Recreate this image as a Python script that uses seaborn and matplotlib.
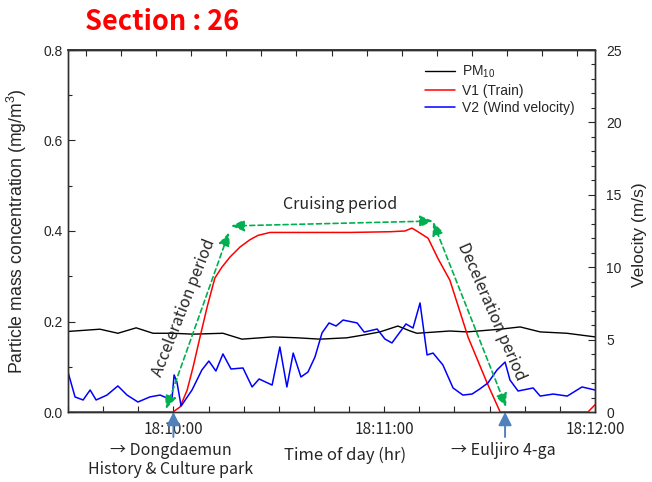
import matplotlib
matplotlib.use("Agg")
import matplotlib.pyplot as plt
import seaborn as sns
from matplotlib.ticker import MultipleLocator, FormatStrFormatter

# ---------------- data (time = seconds after 18:09:30) ----------------
pm_t = [0, 9.1, 14.2, 19.4, 24.2, 29.9, 35.6, 44.1, 49.5, 58.4, 65.2, 71.7, 79.4,
        84.0, 88.8, 93.9, 97.4, 99.3, 108.7, 113.6, 123.0, 128.7, 134.4, 142.0, 150]
pm_v = [0.178, 0.183, 0.174, 0.186, 0.174, 0.174, 0.172, 0.174, 0.161, 0.166, 0.164,
        0.161, 0.164, 0.170, 0.177, 0.190, 0.179, 0.174, 0.179, 0.177, 0.183, 0.188,
        0.177, 0.174, 0.166]

v1_t = [0, 29.9, 31.9, 33.9, 35.6, 37.6, 39.6, 41.8, 43.8, 46.1, 49.0, 51.8, 54.1,
        57.5, 61.2, 66.0, 80.3, 91.7, 95.9, 97.9, 99.6, 102.5, 105.3, 108.7, 113.9,
        119.3, 123.0, 148.0, 150]
v1_v = [0, 0, 0.35, 1.5, 3.1, 5.2, 7.25, 9.25, 10.0, 10.7, 11.4, 11.9, 12.2, 12.4,
        12.4, 12.4, 12.4, 12.45, 12.5, 12.7, 12.45, 12.0, 10.6, 9.1, 5.15, 2.0, 0.0,
        0.0, 0.5]

v2_t = [0, 2.0, 4.3, 6.3, 8.0, 11.1, 14.2, 16.8, 19.9, 23.3, 26.2, 28.2, 29.6, 30.2,
        31.0, 32.2, 35.3, 38.1, 40.1, 42.1, 44.1, 46.4, 49.8, 52.4, 54.4, 58.1, 60.3,
        62.3, 64.1, 66.3, 68.3, 70.3, 72.3, 74.3, 76.3, 78.3, 82.3, 84.3, 88.0, 90.2,
        92.2, 96.2, 98.2, 100.2, 102.2, 103.9, 106.7, 109.6, 112.4, 115.0, 117.2,
        119.5, 122.1, 124.4, 125.8, 128.1, 132.4, 134.4, 138.1, 142.1, 146.3, 150]
v2_v = [2.76, 1.04, 0.83, 1.52, 0.83, 1.17, 1.80, 1.17, 0.69, 1.04, 1.17, 0.97, 0.90,
        2.56, 2.07, 0.41, 1.52, 2.90, 3.52, 2.83, 4.01, 2.97, 3.04, 1.73, 2.28, 1.86,
        4.49, 1.73, 4.07, 2.42, 2.76, 3.80, 5.46, 6.15, 5.94, 6.35, 6.15, 5.52, 5.73,
        5.04, 4.77, 6.08, 5.80, 7.53, 3.94, 4.07, 3.25, 1.66, 1.17, 1.24, 1.59, 2.00,
        2.90, 3.45, 2.21, 1.45, 1.66, 1.10, 1.24, 1.10, 1.73, 1.52]

x_ticks = [30, 90, 150]
x_ticklabels = ["18:10:00", "18:11:00", "18:12:00"]
legend_labels = ["PM$_{10}$", "V1 (Train)", "V2 (Wind velocity)"]

# ---------------- style ----------------
sns.set_theme(style="ticks")
plt.rcParams['font.family'] = ['Liberation Sans', 'DejaVu Sans']
plt.rcParams['mathtext.fontset'] = 'custom'
plt.rcParams['mathtext.rm'] = 'Liberation Sans'
plt.rcParams['mathtext.it'] = 'Liberation Sans:italic'
KR = ['Noto Sans CJK KR', 'DejaVu Sans']
GREEN = '#00b050'
ARROWBLUE = '#4f81bd'

fig = plt.figure(figsize=(6.52, 4.82), dpi=100)
ax = fig.add_axes([68/652, 1-412/482, 527/652, 362/482])
ax2 = ax.twinx()

sns.lineplot(x=pm_t, y=pm_v, ax=ax, color='black', lw=1.0)
sns.lineplot(x=v1_t, y=v1_v, ax=ax2, color='#ff0000', lw=1.1)
sns.lineplot(x=v2_t, y=v2_v, ax=ax2, color='#0000ff', lw=1.1)

ax.set_xlim(0, 150)
ax.set_ylim(0, 0.8)
ax2.set_ylim(0, 25)
ax.set_xlabel("")
ax.set_ylabel("")
ax2.set_ylabel("")

for a in (ax, ax2):
    for s in a.spines.values():
        s.set_linewidth(1.0)
        s.set_color('#303030')

# x ticks
ax.set_xticks(x_ticks)
ax.set_xticklabels(x_ticklabels, fontfamily=KR, fontsize=11)
ax.xaxis.set_minor_locator(MultipleLocator(10))
ax.tick_params(axis='x', which='both', direction='in', length=4.5, width=0.8, pad=6.5)
top = ax.secondary_xaxis('top')
top.set_xticks([5 + 10 * i for i in range(15)])
top.tick_params(direction='in', length=4.5, width=0.8, labeltop=False)

# left y
ax.yaxis.set_major_locator(MultipleLocator(0.2))
ax.yaxis.set_minor_locator(MultipleLocator(0.1))
ax.yaxis.set_major_formatter(FormatStrFormatter('%.1f'))
ax.tick_params(axis='y', which='major', direction='in', length=5, width=0.8, labelsize=10, pad=4)
ax.tick_params(axis='y', which='minor', direction='in', length=3, width=0.8)

# right y
ax2.yaxis.set_major_locator(MultipleLocator(5))
ax2.yaxis.set_minor_locator(MultipleLocator(1))
ax2.tick_params(axis='y', which='major', direction='in', length=5, width=0.8, labelsize=10, pad=8)
ax2.tick_params(axis='y', which='minor', direction='in', length=3, width=0.8)

# axis labels
ax.text(-0.097, 0.5, "Particle mass concentration (mg/m$^3$)", rotation=90,
        ha='center', va='center', fontsize=12.7, transform=ax.transAxes)
ax.text(1.085, 0.49, "Velocity (m/s)", rotation=90, ha='center', va='center',
        fontsize=12.5, transform=ax.transAxes)
ax.text(78.9, -0.132, "Time of day (hr)", ha='center', va='baseline', fontsize=12,
        fontfamily=KR, transform=ax.get_xaxis_transform())

# title
fig.text(85/652, 1-30/482, "Section : 26", color='#ff0000', fontweight='bold',
         fontsize=19.5, fontfamily=KR, va='baseline', ha='left')

# legend
handles = [ax.lines[0], ax2.lines[0], ax2.lines[1]]
ax2.legend(handles, legend_labels, loc='upper left', bbox_to_anchor=(0.677, 0.962),
           frameon=False, fontsize=10, handlelength=2.2, handletextpad=0.5,
           labelspacing=0.25, borderpad=0, borderaxespad=0)

# station arrows and names
xt = ax.get_xaxis_transform()
for xs in (30, 124.4):
    ax.annotate("", xy=(xs, 0), xytext=(xs, -0.069), xycoords=xt, textcoords=xt,
                annotation_clip=False, zorder=10,
                arrowprops=dict(arrowstyle='-|>,head_length=0.8,head_width=0.4',
                                color=ARROWBLUE, lw=1.4, shrinkA=0, shrinkB=0,
                                mutation_scale=10))
ax.text(29.3, -0.118, "\u2192 Dongdaemun", ha='center', va='baseline', fontsize=11.5,
        fontfamily=KR, transform=xt)
ax.text(29.3, -0.171, "History & Culture park", ha='center', va='baseline', fontsize=11.5,
        fontfamily=KR, transform=xt)
ax.text(124.0, -0.118, "\u2192 Euljiro 4-ga", ha='center', va='baseline', fontsize=11.5,
        fontfamily=KR, transform=xt)

# period annotations (on velocity axis so they sit above the lines)
def garrow(p0, p1):
    ax2.annotate("", xy=p1, xytext=p0, zorder=9,
                 arrowprops=dict(arrowstyle='<|-|>,head_length=0.8,head_width=0.35',
                                 color=GREEN, lw=1.2, linestyle=(0, (3, 2)),
                                 shrinkA=0, shrinkB=0, mutation_scale=10))

garrow((27.9, 0.21), (45.8, 12.4))
garrow((46.4, 12.85), (103.9, 13.19))
garrow((103.9, 13.12), (124.7, 0.35))

ax2.text(77.4, 14.36, "Cruising period", ha='center', va='center', fontsize=11.5,
         fontfamily=KR)
ax2.text(33.0, 7.18, "Acceleration period", ha='center', va='center', fontsize=11.5,
         fontfamily=KR, rotation=68.5, rotation_mode='anchor')
ax2.text(120.4, 6.9, "Deceleration period", ha='center', va='center', fontsize=11.5,
         fontfamily=KR, rotation=-66.5, rotation_mode='anchor')

fig.savefig("out.png", dpi=100)
